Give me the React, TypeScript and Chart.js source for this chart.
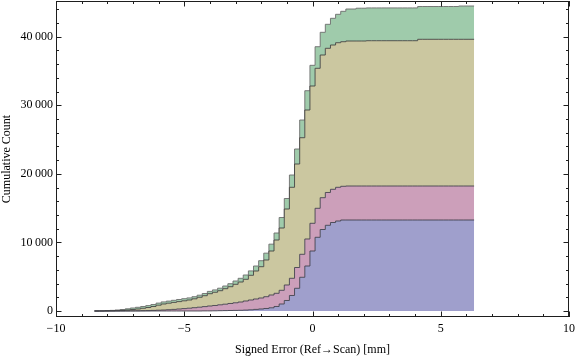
import React, { useEffect, useRef } from "react";
import { Chart, registerables } from "chart.js";

Chart.register(...registerables);

// Bin edges of the cumulative histogram (mm)
const binEdges = [
  -8.5, -8.3, -8.1, -7.9, -7.7, -7.5, -7.3, -7.1, -6.9, -6.7,
  -6.5, -6.3, -6.1, -5.9, -5.7, -5.5, -5.3, -5.1, -4.9, -4.7,
  -4.5, -4.3, -4.1, -3.9, -3.7, -3.5, -3.3, -3.1, -2.9, -2.7,
  -2.5, -2.3, -2.1, -1.9, -1.7, -1.5, -1.3, -1.1, -0.9, -0.7,
  -0.5, -0.3, -0.1, 0.1, 0.3, 0.5, 0.7, 0.9, 1.1, 1.3,
  1.5, 1.7, 1.9, 2.1, 2.3, 2.5, 2.7, 2.9, 3.1, 3.3,
  3.5, 3.7, 3.9, 4.1, 4.3, 4.5, 4.7, 4.9, 5.1, 5.3,
  5.5, 5.7, 5.9, 6.1, 6.3,
];

// Cumulative counts per series (one value per bin)
const blueCounts = [
  0, 0, 0, 0, 0, 0, 0, 0, 0, 0,
  0, 0, 0, 0, 0, 0, 0, 0, 0, 0,
  0, 0, 15, 15, 29, 44, 58, 73, 88, 102,
  131, 175, 233, 292, 365, 467, 656, 1021, 1531, 2260,
  3310, 4914, 6561, 8748, 10745, 11881, 12494, 12903, 13122, 13268,
  13268, 13268, 13268, 13268, 13268, 13268, 13268, 13268, 13268, 13268,
  13268, 13268, 13268, 13268, 13268, 13268, 13268, 13268, 13268, 13268,
  13268, 13268, 13268, 13268,
];

const pinkCounts = [
  0, 0, 0, 0, 0, 0, 7, 15, 22, 29,
  44, 58, 87, 117, 146, 190, 233, 292, 350, 408,
  481, 554, 626, 714, 773, 860, 933, 1021, 1108, 1210,
  1327, 1429, 1517, 1604, 1720, 1866, 1924, 1997, 2260, 2508,
  3032, 3353, 3937, 4039, 4229, 4639, 4784, 4842, 4914, 4914,
  4957, 4957, 4957, 4957, 4957, 4957, 4957, 4957, 4957, 4957,
  4957, 4957, 4957, 4957, 4957, 4957, 4957, 4957, 4957, 4957,
  4957, 4957, 4957, 4957,
];

const khakiCounts = [
  0, 0, 0, 15, 29, 58, 80, 131, 197, 263,
  350, 452, 569, 728, 875, 947, 1021, 1079, 1137, 1196,
  1298, 1444, 1590, 1794, 1925, 2056, 2261, 2450, 2697, 2916,
  3164, 3601, 4082, 4563, 5351, 6415, 7772, 9083, 11081, 13268,
  15091, 17000, 18808, 20018, 20412, 20805, 21024, 21038, 21082, 21082,
  21141, 21141, 21141, 21141, 21185, 21185, 21185, 21185, 21185, 21185,
  21185, 21185, 21185, 21185, 21389, 21389, 21389, 21389, 21389, 21389,
  21389, 21389, 21389, 21389,
];

const greenCounts = [
  0, 0, 15, 44, 58, 88, 131, 175, 219, 248,
  262, 277, 292, 306, 306, 306, 306, 306, 306, 306,
  306, 306, 321, 335, 350, 364, 393, 437, 481, 540,
  627, 642, 729, 875, 1000, 1000, 1020, 1530, 1530, 1793,
  2187, 2581, 2814, 3018, 3149, 3310, 3499, 3893, 4141, 4432,
  4666, 4666, 4782, 4782, 4782, 4782, 4782, 4782, 4782, 4782,
  4782, 4782, 4782, 4782, 4782, 4782, 4782, 4782, 4782, 4782,
  4782, 4782, 4856, 4856,
];

const xTickValues = [-10, -5, 0, 5, 10];
const xTickLabels = ["\u221210", "\u22125", "0", "5", "10"];
const xMinorTicks = [-9, -8, -7, -6, -4, -3, -2, -1, 1, 2, 3, 4, 6, 7, 8, 9];
const yTickValues = [0, 10000, 20000, 30000, 40000];
const yTickLabels = ["0", "10\u2009000", "20\u2009000", "30\u2009000", "40\u2009000"];
const yMinorTicks = [
  2000, 4000, 6000, 8000, 12000, 14000, 16000, 18000, 22000, 24000,
  26000, 28000, 32000, 34000, 36000, 38000, 42000, 44000,
];

const xTitle = "Signed Error (Ref\u2192Scan) [mm]";
const yTitle = "Cumulative Count";

const FONT = "'Liberation Serif', 'Times New Roman', serif";

function toSteps(counts: number[]) {
  const pts = counts.map((c, i) => ({ x: binEdges[i], y: c }));
  pts.push({ x: binEdges[counts.length], y: counts[counts.length - 1] });
  return pts;
}

const framePlugin = {
  id: "mmaFrame",
  afterDraw(chart: any) {
    const { ctx, chartArea: a, scales } = chart;
    const xs = scales.x;
    const ys = scales.y;
    ctx.save();
    ctx.strokeStyle = "#1e1e1e";
    ctx.lineWidth = 1;
    ctx.strokeRect(a.left + 0.5, a.top + 0.5, a.right - a.left - 1, a.bottom - a.top - 1);
    const drawX = (v: number, len: number) => {
      const p = Math.round(xs.getPixelForValue(v)) + 0.5;
      ctx.beginPath();
      ctx.moveTo(p, a.bottom);
      ctx.lineTo(p, a.bottom - len);
      ctx.moveTo(p, a.top);
      ctx.lineTo(p, a.top + len);
      ctx.stroke();
    };
    const drawY = (v: number, len: number) => {
      const p = Math.round(ys.getPixelForValue(v)) + 0.5;
      ctx.beginPath();
      ctx.moveTo(a.left, p);
      ctx.lineTo(a.left + len, p);
      ctx.moveTo(a.right, p);
      ctx.lineTo(a.right - len, p);
      ctx.stroke();
    };
    xTickValues.forEach((v) => drawX(v, 5.5));
    xMinorTicks.forEach((v) => drawX(v, 3));
    yTickValues.forEach((v) => drawY(v, 5.5));
    yMinorTicks.forEach((v) => drawY(v, 3));
    ctx.restore();
  },
};

export default function App() {
  const ref = useRef<HTMLCanvasElement | null>(null);

  useEffect(() => {
    if (!ref.current) return;
    const line = (counts: number[], fill: string, border: string, fillMode: any) => ({
      data: toSteps(counts),
      stepped: "after" as const,
      backgroundColor: fill,
      borderColor: border,
      borderWidth: 1,
      pointRadius: 0,
      fill: fillMode,
    });
    const chart = new Chart(ref.current, {
      type: "line",
      data: {
        datasets: [
          line(blueCounts, "#9f9fcc", "rgba(60,60,70,0.85)", "origin"),
          line(pinkCounts, "#cc9fba", "rgba(60,60,70,0.85)", "-1"),
          line(khakiCounts, "#cbc7a0", "rgba(60,60,60,0.85)", "-1"),
          line(greenCounts, "#9fcbab", "rgba(110,110,110,0.9)", "-1"),
        ],
      },
      options: {
        animation: false,
        responsive: false,
        devicePixelRatio: 1,
        layout: { padding: { left: 0, right: 7, top: 1, bottom: 0 } },
        plugins: { legend: { display: false }, tooltip: { enabled: false } },
        scales: {
          x: {
            type: "linear",
            min: -10,
            max: 10,
            grid: { display: false, drawTicks: false },
            border: { display: false },
            afterBuildTicks: (s: any) => {
              s.ticks = xTickValues.map((v) => ({ value: v }));
            },
            afterFit: (s: any) => {
              s.height = 40;
              s.paddingLeft = 0;
              s.paddingRight = 0;
            },
            ticks: {
              autoSkip: false,
              maxRotation: 0,
              padding: 5,
              color: "#000",
              font: { family: FONT, size: 12 },
              callback: (_v: any, i: number) => xTickLabels[i],
            },
            title: {
              display: true,
              text: xTitle,
              color: "#000",
              font: { family: FONT, size: 12 },
              padding: { top: 0, bottom: 0 },
            },
          },
          y: {
            type: "linear",
            stacked: true,
            min: -875,
            max: 45200,
            grid: { display: false, drawTicks: false },
            border: { display: false },
            afterBuildTicks: (s: any) => {
              s.ticks = yTickValues.map((v) => ({ value: v }));
            },
            afterFit: (s: any) => {
              s.width = 56;
              s.paddingTop = 0;
              s.paddingBottom = 0;
            },
            ticks: {
              autoSkip: false,
              padding: 3,
              color: "#000",
              font: { family: FONT, size: 12 },
              callback: (_v: any, i: number) => yTickLabels[i],
            },
            title: {
              display: true,
              text: yTitle,
              color: "#000",
              font: { family: FONT, size: 12 },
              padding: { top: 0, bottom: 0 },
            },
          },
        },
      },
      plugins: [framePlugin],
    });
    return () => chart.destroy();
  }, []);

  return (
    <div style={{ position: "absolute", left: 0, top: 0, width: 576, height: 357, background: "#fff" }}>
      <canvas ref={ref} width={576} height={357} />
    </div>
  );
}
